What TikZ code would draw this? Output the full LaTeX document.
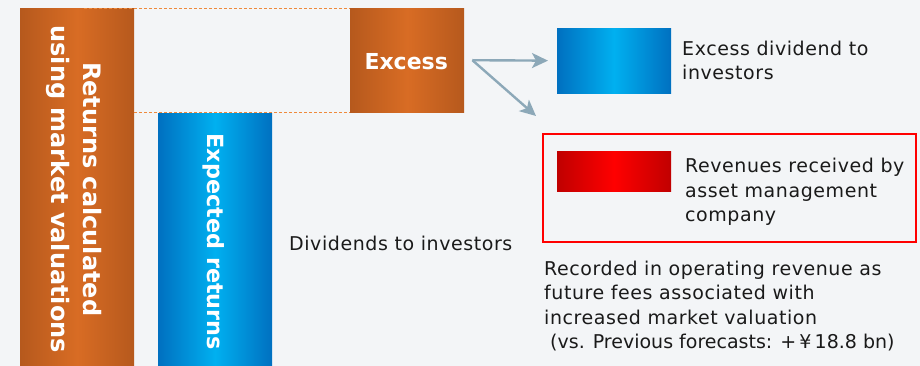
\documentclass[tikz,border=0pt]{standalone}
\usepackage{fontspec}
\setmainfont{DejaVu Sans}
\newfontfamily\widefont{DejaVu Sans}[LetterSpace=3]
\usepackage{tikz}
\usetikzlibrary{arrows.meta,positioning,calc}
\definecolor{bgpale}{HTML}{F3F5F7}
\definecolor{rustdark}{HTML}{B6591D}
\definecolor{rustmid}{HTML}{D86C24}
\definecolor{rustline}{HTML}{EE8A3C}
\definecolor{bluedark}{HTML}{0070C0}
\definecolor{bluemid}{HTML}{00B0F0}
\definecolor{reddark}{HTML}{C00000}
\definecolor{redmid}{HTML}{FF0000}
\definecolor{arrowgrey}{HTML}{8CA8B8}
\definecolor{inkgrey}{HTML}{1A1A1A}

\begin{document}
\begin{tikzpicture}[x=1pt,y=-1pt,
  bar/.style={rectangle,inner sep=0pt,anchor=north west,minimum width=114pt},
  rustbar/.style={bar,left color=rustdark,right color=rustdark,middle color=rustmid},
  bluebar/.style={bar,left color=bluedark,right color=bluedark,middle color=bluemid},
  redbar/.style={bar,left color=reddark,right color=reddark,middle color=redmid},
  bartext/.style={inner sep=0pt,text=white,align=center,font=\bfseries\fontsize{22.3}{28}\selectfont},
  note/.style={inner sep=0pt,anchor=north west,align=left,text=inkgrey,font=\widefont\fontsize{19}{24.5}\selectfont},
  flow/.style={draw=arrowgrey,line width=2.4pt,-{Stealth[length=16pt,width=15pt,inset=4pt]}},
  outline/.style={draw=rustline,dash pattern=on 3pt off 2pt,line width=0.9pt}]
\fill[bgpale] (0,0) rectangle (920,366);
\useasboundingbox (0,0) rectangle (920,366);

\node[rustbar,minimum height=358pt] (returns) at (20,8) {};
\node[rustbar,minimum height=104pt] (excess) at (350,8) {};
\node[bluebar,minimum height=253pt] (expected) at (158,113) {};
\node[bluebar,minimum height=65pt] (dividend) at (557,28) {};
\node[redbar,minimum height=40pt] (revenue) at (557,151) {};
\node[draw=redmid,line width=2pt,inner sep=0pt,anchor=north west,
  minimum width=373pt,minimum height=108pt] (frame) at (542,133) {};

\node[bartext,rotate=-90,font=\bfseries\fontsize{24}{32}\selectfont] (returnslabel) at ($(returns.center)+(-3,2)$)
  {Returns calculated\\using market valuations};
\node[bartext,font=\bfseries\fontsize{22}{28}\selectfont] (excesslabel) at ($(excess.center)+(-1,1)$) {Excess};
\node[bartext,rotate=-90] (expectedlabel) at ($(expected.center)+(-2,2)$) {Expected returns};

\draw[outline] (84,8) -- (excess.north west);
\draw[outline] (returns.east |- excess.south) -- (excess.south west);

\coordinate (split) at ($(excess.east)+(8,0)$);
\coordinate (down) at (536,116);
\draw[flow,shorten >=9pt] (split) -- (dividend.west);
\draw[flow] (split) -- (down);

\node[note] (dividendnote) at (682,40.5) {Excess dividend to\\investors};
\node[note] (revenuenote) at (685,158) {Revenues received by\\asset management\\company};
\node[note,anchor=base west] (investornote) at (289,250) {Dividends to investors};
\node[note] (recordnote) at (544,260.5) {Recorded in operating revenue as\\future fees associated with\\increased market valuation\\
  {\normalfont\hspace{6pt}(vs. Previous forecasts: +\,¥\,18.8 bn)}};
\end{tikzpicture}
\end{document}
